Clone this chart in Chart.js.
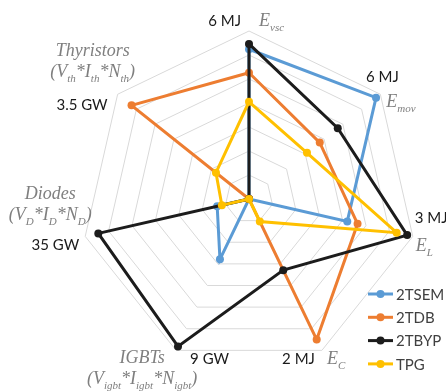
<!DOCTYPE html>
<html>
<head>
<meta charset="utf-8">
<script src="https://cdn.jsdelivr.net/npm/chart.js@4/dist/chart.umd.min.js"></script>
<style>
  html, body { margin: 0; padding: 0; background: #fff; }
  canvas { display: block; }
</style>
</head>
<body>
<canvas id="radar" width="446" height="392"></canvas>
<script>
// axes, clockwise from the top
const axisNames = ["Evsc", "Emov", "EL", "EC", "IGBTs", "Diodes", "Thyristors"];
const axisMax = ["6 MJ", "6 MJ", "3 MJ", "2 MJ", "9 GW", "35 GW", "3.5 GW"];

// values read in grid rings (outer ring = 7)
const tsem = [6.24, 6.77, 4.2, 0, 2.79, 1.36, 0];
const tdb = [5.26, 3.77, 4.64, 6.5, 0, 0, 6.26];
const tbyp = [6.46, 4.73, 6.76, 3.29, 6.82, 6.44, 0];
const tpg = [4.05, 3.09, 6.31, 1.04, 0, 1.16, 1.76];

const seriesNames = ["2TSEM", "2TDB", "2TBYP", "TPG"];
const seriesColors = ["#5b9bd5", "#ed7d31", "#1c1c1c", "#ffc000"];

const valueFont = "15px Lato";
const nameFont = "italic 18px 'Liberation Serif'";
const subFont = "italic 11px 'Liberation Serif'";
const nameColor = "#7f7f7f";

// draws pieces like [["V"],["th",1],["*I"]...] where 1 means subscript
function richWidth(ctx, parts) {
  let w = 0;
  parts.forEach((p) => {
    ctx.font = p[1] ? subFont : nameFont;
    w += ctx.measureText(p[0]).width;
  });
  return w;
}
function drawRich(ctx, parts, x, y, align) {
  let w = richWidth(ctx, parts);
  let cx = align === "center" ? x - w / 2 : align === "right" ? x - w : x;
  ctx.textAlign = "left";
  ctx.fillStyle = nameColor;
  parts.forEach((p) => {
    ctx.font = p[1] ? subFont : nameFont;
    ctx.fillText(p[0], cx, p[1] ? y + 5 : y);
    cx += ctx.measureText(p[0]).width;
  });
}

function valueText(ctx, t, x, y, align) {
  ctx.font = valueFont;
  ctx.fillStyle = "#1a1a1a";
  ctx.textAlign = align;
  ctx.fillText(t, x, y);
}

const labelPlugin = {
  id: "axisLabels",
  afterDraw(chart) {
    const ctx = chart.ctx;
    const r = chart.scales.r;
    const v = axisNames.map((n, i) => r.getPointPosition(i, r.drawingArea));
    ctx.save();
    ctx.textBaseline = "alphabetic";

    // E_vsc
    valueText(ctx, axisMax[0], v[0].x - 8, v[0].y - 5, "right");
    drawRich(ctx, [["E"], ["vsc", 1]], v[0].x + 10, v[0].y - 5, "left");
    // E_mov
    valueText(ctx, axisMax[1], v[1].x + 2, v[1].y - 12, "center");
    drawRich(ctx, [["E"], ["mov", 1]], v[1].x + 6, v[1].y + 13, "left");
    // E_L
    valueText(ctx, axisMax[2], v[2].x + 2, v[2].y - 13, "left");
    drawRich(ctx, [["E"], ["L", 1]], v[2].x + 3, v[2].y + 15, "left");
    // E_C
    valueText(ctx, axisMax[3], v[3].x - 7, v[3].y + 14, "right");
    drawRich(ctx, [["E"], ["C", 1]], v[3].x + 5, v[3].y + 14, "left");
    // IGBTs
    valueText(ctx, axisMax[4], v[4].x + 14, v[4].y + 14, "left");
    drawRich(ctx, [["IGBTs"]], v[4].x - 34, v[4].y + 13, "center");
    drawRich(ctx, [["(V"], ["igbt", 1], ["*I"], ["igbt", 1], ["*N"], ["igbt", 1], [")"]], v[4].x - 34, v[4].y + 34, "center");
    // Diodes
    valueText(ctx, axisMax[5], v[5].x - 6, v[5].y + 14, "right");
    drawRich(ctx, [["Diodes"]], v[5].x - 35, v[5].y - 37, "center");
    drawRich(ctx, [["(V"], ["D", 1], ["*I"], ["D", 1], ["*N"], ["D", 1], [")"]], v[5].x - 35, v[5].y - 16, "center");
    // Thyristors
    valueText(ctx, axisMax[6], v[6].x - 10, v[6].y + 16, "right");
    drawRich(ctx, [["Thyristors"]], v[6].x - 25, v[6].y - 38, "center");
    drawRich(ctx, [["(V"], ["th", 1], ["*I"], ["th", 1], ["*N"], ["th", 1], [")"]], v[6].x - 25, v[6].y - 17, "center");

    // legend, line with a dot
    const lx = 368, ly = 294, gap = 23.3;
    seriesNames.forEach((name, i) => {
      const y = ly + i * gap;
      ctx.strokeStyle = seriesColors[i];
      ctx.lineWidth = 3;
      ctx.beginPath();
      ctx.moveTo(lx, y);
      ctx.lineTo(lx + 25, y);
      ctx.stroke();
      ctx.fillStyle = seriesColors[i];
      ctx.beginPath();
      ctx.arc(lx + 12.5, y, 4, 0, Math.PI * 2);
      ctx.fill();
      ctx.font = valueFont;
      ctx.fillStyle = "#404040";
      ctx.textAlign = "left";
      ctx.textBaseline = "middle";
      ctx.fillText(name, lx + 28, y + 1);
    });
    ctx.restore();
  },
};

const allValues = [tsem, tdb, tbyp, tpg];

new Chart(document.getElementById("radar"), {
  type: "radar",
  data: {
    labels: axisNames,
    datasets: seriesNames.map((name, i) => ({
      label: name,
      data: allValues[i],
      borderColor: seriesColors[i],
      backgroundColor: seriesColors[i],
      pointBackgroundColor: seriesColors[i],
      pointBorderColor: seriesColors[i],
      borderWidth: 3,
      pointRadius: 4,
      pointBorderWidth: 0,
      fill: false,
      tension: 0,
      order: 4 - i, // later series on top, like the original
    })),
  },
  options: {
    responsive: false,
    animation: false,
    layout: { padding: { left: 81, right: 29, top: 31, bottom: 25 } },
    plugins: { legend: { display: false }, tooltip: { enabled: false } },
    scales: {
      r: {
        min: 0,
        max: 7,
        ticks: { display: false, stepSize: 1 },
        grid: { color: "#d9d9d9", lineWidth: 1 },
        angleLines: { display: false },
        pointLabels: { display: false },
      },
    },
  },
  plugins: [labelPlugin],
});
</script>
</body>
</html>
